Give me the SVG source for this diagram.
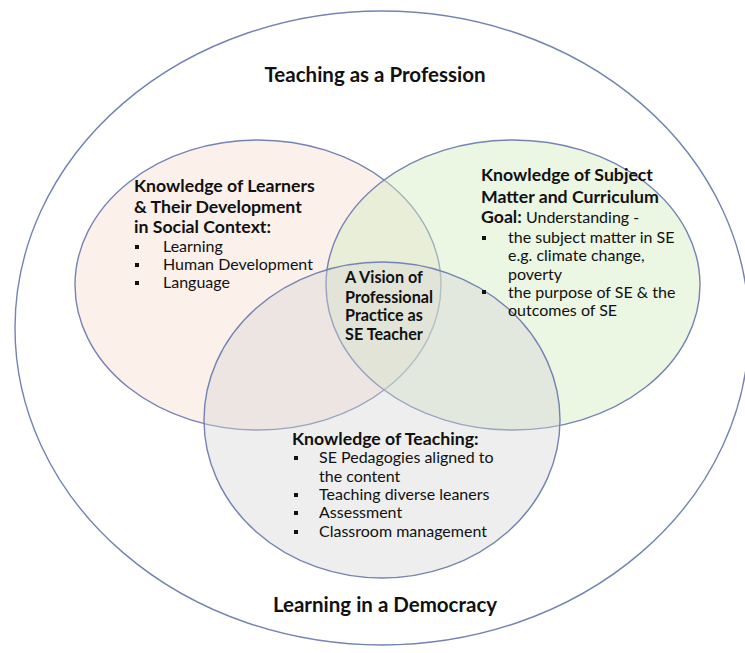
<svg xmlns="http://www.w3.org/2000/svg" width="745" height="653" viewBox="0 0 745 653">
<style>
.ring{stroke:#7383b3;stroke-width:1.4}
.T{font-family:Lato,"Open Sans","Liberation Sans",sans-serif;font-weight:bold;font-size:20.5px;fill:#111}
.h{font-family:Lato,"Open Sans","Liberation Sans",sans-serif;font-weight:bold;font-size:17.7px;fill:#111}
.c{font-family:Lato,"Open Sans","Liberation Sans",sans-serif;font-weight:bold;font-size:16.2px;fill:#111}
.t{font-family:Lato,"Open Sans","Liberation Sans",sans-serif;font-size:16px;fill:#111}
.b{fill:#111}
</style>
<rect width="745" height="653" fill="#fff"/>
<g id="outer">
<ellipse class="ring" cx="382" cy="328" rx="367" ry="317" fill="none"/>
<text class="T" x="375" y="82" text-anchor="middle">Teaching as a Profession</text>
<text class="T" x="385" y="612" text-anchor="middle">Learning in a Democracy</text>
</g>
<g id="learners">
<ellipse class="ring" cx="258" cy="285" rx="183" ry="145" fill="#f5d4c6" fill-opacity="0.35"/>
</g>
<g id="subject">
<ellipse class="ring" cx="513" cy="285" rx="187" ry="145" fill="#d2ebc0" fill-opacity="0.45"/>
</g>
<g id="teaching">
<ellipse class="ring" cx="382" cy="420" rx="178" ry="158" fill="#d4d4d4" fill-opacity="0.4"/>
</g>
<g id="learners-text">
<text class="h" x="134" y="192">Knowledge of Learners</text>
<text class="h" x="134" y="213">&amp; Their Development</text>
<text class="h" x="134" y="233">in Social Context:</text>
<rect class="b" x="135" y="245" width="4" height="4"/>
<rect class="b" x="135" y="263" width="4" height="4"/>
<rect class="b" x="135" y="281" width="4" height="4"/>
<text class="t" x="163" y="252">Learning</text>
<text class="t" x="163" y="270">Human Development</text>
<text class="t" x="163" y="288">Language</text>
</g>
<g id="subject-text">
<text class="h" x="481" y="181">Knowledge of Subject</text>
<text class="h" x="481" y="203">Matter and Curriculum</text>
<text class="t" x="481" y="223"><tspan font-weight="bold" font-size="17.7px">Goal:</tspan> Understanding -</text>
<rect class="b" x="482" y="236" width="4" height="4"/>
<rect class="b" x="482" y="290" width="4" height="4"/>
<text class="t" x="508" y="243">the subject matter in SE</text>
<text class="t" x="508" y="261">e.g. climate change,</text>
<text class="t" x="508" y="280">poverty</text>
<text class="t" x="508" y="298">the purpose of SE &amp; the</text>
<text class="t" x="508" y="316">outcomes of SE</text>
</g>
<g id="teaching-text">
<text class="h" x="292" y="445">Knowledge of Teaching:</text>
<rect class="b" x="294" y="456" width="4" height="4"/>
<rect class="b" x="294" y="493" width="4" height="4"/>
<rect class="b" x="294" y="511" width="4" height="4"/>
<rect class="b" x="294" y="530" width="4" height="4"/>
<text class="t" x="319" y="463">SE Pedagogies aligned to</text>
<text class="t" x="319" y="482">the content</text>
<text class="t" x="319" y="500">Teaching diverse leaners</text>
<text class="t" x="319" y="518">Assessment</text>
<text class="t" x="319" y="537">Classroom management</text>
</g>
<g id="vision">
<text class="c" x="345" y="283">A Vision of</text>
<text class="c" x="345" y="303">Professional</text>
<text class="c" x="345" y="321">Practice as</text>
<text class="c" x="345" y="340">SE Teacher</text>
</g>
</svg>
